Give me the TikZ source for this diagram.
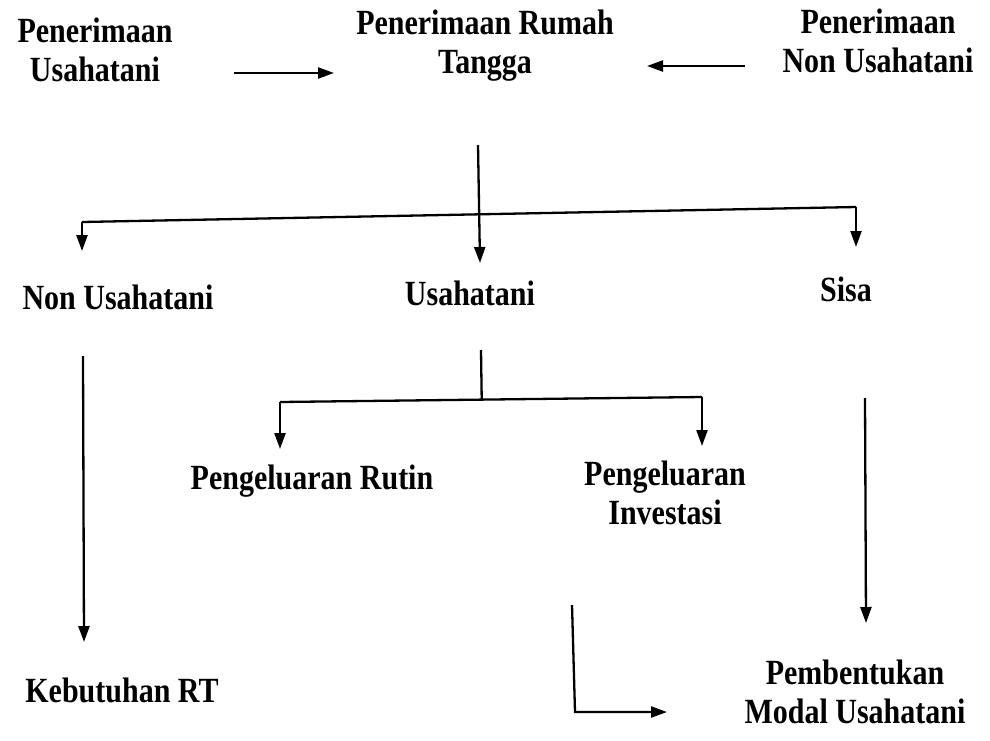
\documentclass[tikz,border=0pt]{standalone}
\usepackage{fontspec}
\setmainfont{Liberation Serif}
\usetikzlibrary{arrows.meta,calc}
\begin{document}
\begin{tikzpicture}[x=1pt,y=-1pt,
  lbl/.style={inner sep=0pt,align=center,font=\fontsize{30}{39}\selectfont\bfseries},
  conn/.style={line width=2.3pt},
  arr/.style={conn,-{Triangle[length=16pt,width=11pt]}}]
\useasboundingbox (0,0) rectangle (990,740);
% nodes
\node[lbl] (pu) at (95,50) {\scalebox{1}[1.18]{Penerimaan}\\\scalebox{1}[1.18]{Usahatani}};
\node[lbl] (prt) at (485,46) {\scalebox{1}[1.18]{Penerimaan Rumah}\\\scalebox{1}[1.18]{Tangga}};
\node[lbl] (pnu) at (878,41) {\scalebox{1}[1.18]{Penerimaan}\\\scalebox{1}[1.18]{Non Usahatani}};
\node[lbl] (nu) at (118,297) {\scalebox{1}[1.18]{Non Usahatani}};
\node[lbl] (u) at (470,293) {\scalebox{1}[1.18]{Usahatani}};
\node[lbl] (s) at (846,289) {\scalebox{1}[1.18]{Sisa}};
\node[lbl] (kr) at (122,690) {\scalebox{1}[1.18]{Kebutuhan RT}};
\node[lbl] (pr) at (312,481) {\scalebox{1}[1.18]{Pengeluaran Rutin}};
\node[lbl] (pi) at (665,493) {\scalebox{1}[1.18]{Pengeluaran}\\\scalebox{1}[1.18]{Investasi}};
\node[lbl] (pm) at (855,692) {\scalebox{1}[1.18]{Pembentukan}\\\scalebox{1}[1.18]{Modal Usahatani}};
% coordinates
\coordinate (a1s) at (234,73);  \coordinate (a1e) at (334,73);
\coordinate (a2s) at (745,66);  \coordinate (a2e) at (647,66);
\coordinate (v1s) at (478,145); \coordinate (v1e) at (480,263);
\coordinate (hL) at (82,222);   \coordinate (hR) at (856,207);
\coordinate (nuT) at (82,251);  \coordinate (sT) at (856,247);
\coordinate (v2s) at (481,350); \coordinate (h2L) at (280,402); \coordinate (h2R) at (702,397);
\coordinate (prT) at (280,449); \coordinate (piT) at (702,446);
\coordinate (v3s) at (83,356);  \coordinate (v3e) at (84,642);
\coordinate (v4s) at (865,398); \coordinate (v4e) at (866,623);
\coordinate (b1) at (572,605);  \coordinate (b2) at (575,712); \coordinate (b3) at (667,712);
% connectors
\draw[arr] (a1s) -- (a1e);
\draw[arr] (a2s) -- (a2e);
\draw[arr] (v1s) -- (v1e);
\draw[conn] (hL) -- (hR);
\draw[arr] (hL) -- (nuT);
\draw[arr] (hR) -- (sT);
\draw[conn] (v2s) -- ($(h2L)!0.478!(h2R)$);
\draw[conn] (h2L) -- (h2R);
\draw[arr] (h2L) -- (prT);
\draw[arr] (h2R) -- (piT);
\draw[arr] (v3s) -- (v3e);
\draw[arr] (v4s) -- (v4e);
\draw[arr] (b1) -- (b2) -- (b3);
\end{tikzpicture}
\end{document}
